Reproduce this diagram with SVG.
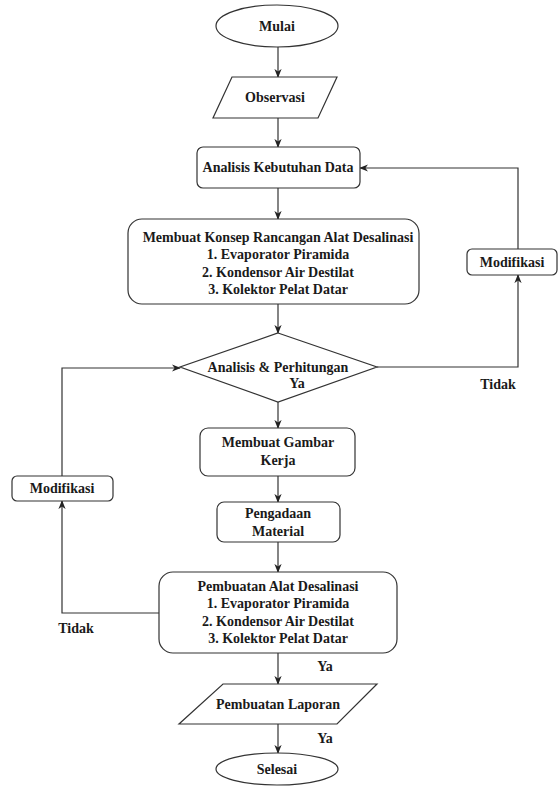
<svg xmlns="http://www.w3.org/2000/svg" width="559" height="787" viewBox="0 0 559 787">
<style>
.s{fill:#fff;stroke:#333;stroke-width:1.2}
.c{fill:none;stroke:#333;stroke-width:1.2;marker-end:url(#a)}
text{font-family:'Liberation Serif','Times New Roman','DejaVu Serif',serif;font-weight:700;font-size:14px;fill:#1a1a1a;text-anchor:middle}
</style>
<defs>
<marker id="a" viewBox="0 0 10 10" refX="9" refY="5" markerWidth="9" markerHeight="9" markerUnits="userSpaceOnUse" orient="auto">
<path d="M0,1 L10,5 L0,9 L3,5 z" fill="#222"/>
</marker>
</defs>
<rect width="559" height="787" fill="#fff"/>
<g id="connectors">
<path class="c" d="M278,47 V77"/>
<path class="c" d="M278,118 V147"/>
<path class="c" d="M278,188 V219"/>
<path class="c" d="M278,304 V333"/>
<path class="c" d="M278,402 V428"/>
<path class="c" d="M278,476 V502"/>
<path class="c" d="M278,542 V572"/>
<path class="c" d="M278,653 V684"/>
<path class="c" d="M278,724 V753"/>
<path class="c" d="M377,367 H518 V275"/>
<path class="c" d="M518,249 V168 H360"/>
<path class="c" d="M159,613 H62 V501"/>
<path class="c" d="M62,476 V368 H180"/>
</g>
<g id="mulai"><ellipse class="s" cx="277" cy="26" rx="61" ry="21"/><text x="277" y="31">Mulai</text></g>
<g id="observasi"><polygon class="s" points="232,77 337,77 318,118 213,118"/><text x="275" y="102">Observasi</text></g>
<g id="analisis-kebutuhan"><rect class="s" x="197" y="147" width="163" height="41" rx="6"/><text x="278" y="172">Analisis Kebutuhan Data</text></g>
<g id="konsep"><rect class="s" x="128" y="219" width="291" height="85" rx="14"/>
<text x="278" y="242">Membuat Konsep Rancangan Alat Desalinasi</text>
<text x="278" y="259">1. Evaporator Piramida</text>
<text x="278" y="277">2. Kondensor Air Destilat</text>
<text x="278" y="294">3. Kolektor Pelat Datar</text></g>
<g id="analisis-perhitungan"><polygon class="s" points="278,333 377,367 278,402 180,367"/><text x="278" y="372">Analisis &amp; Perhitungan</text></g>
<g id="modifikasi-kanan"><rect class="s" x="467" y="249" width="90" height="26" rx="5"/><text x="512" y="267">Modifikasi</text></g>
<g id="gambar-kerja"><rect class="s" x="200" y="428" width="155" height="48" rx="8"/><text x="278" y="447">Membuat Gambar</text><text x="278" y="465">Kerja</text></g>
<g id="modifikasi-kiri"><rect class="s" x="12" y="476" width="101" height="25" rx="5"/><text x="62" y="493">Modifikasi</text></g>
<g id="pengadaan"><rect class="s" x="217" y="502" width="123" height="40" rx="7"/><text x="278" y="518">Pengadaan</text><text x="278" y="536">Material</text></g>
<g id="pembuatan-alat"><rect class="s" x="159" y="572" width="238" height="81" rx="14"/>
<text x="278" y="591">Pembuatan Alat Desalinasi</text>
<text x="278" y="608">1. Evaporator Piramida</text>
<text x="278" y="626">2. Kondensor Air Destilat</text>
<text x="278" y="643">3. Kolektor Pelat Datar</text></g>
<g id="laporan"><polygon class="s" points="223,684 377,684 337,724 179,724"/><text x="278" y="709">Pembuatan Laporan</text></g>
<g id="selesai"><ellipse class="s" cx="277" cy="769" rx="61" ry="16"/><text x="277" y="774">Selesai</text></g>
<g id="labels">
<text x="297" y="388">Ya</text>
<text x="498" y="389">Tidak</text>
<text x="76" y="633">Tidak</text>
<text x="325" y="671">Ya</text>
<text x="325" y="743">Ya</text>
</g>
</svg>
